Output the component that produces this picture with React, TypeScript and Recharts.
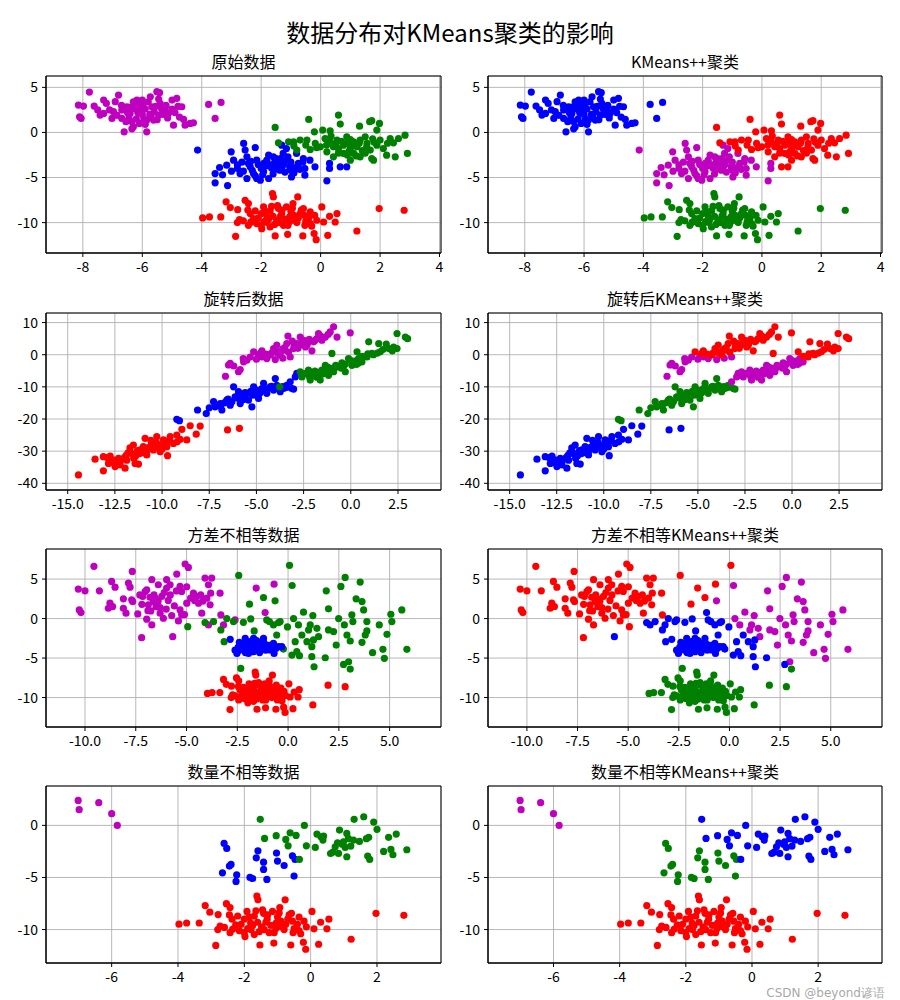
import React from 'react';
import { ScatterChart, Scatter, XAxis, YAxis, CartesianGrid, ReferenceArea } from 'recharts';

type P = [number, number];

// ---------- original blobs ----------
const A_MAG: P[] = [[-7.78,4.48],[-8.15,3.04],[-7.98,2.93],[-8.11,1.74],[-8.06,1.56],[-7.62,2.93],[-7.30,3.59],[-7.21,3.22],[-7.42,1.93],[-7.30,2.11],[-7.02,1.56],[-6.91,3.41],[-6.80,4.15],[-6.97,2.30],[-6.69,2.48],[-6.69,1.56],[-6.61,0.07],[-6.52,2.85],[-6.41,2.11],[-6.35,1.19],[-6.30,0.63],[-6.18,3.59],[-6.07,2.48],[-5.96,3.22],[-5.85,0.07],[-5.85,1.37],[-5.73,3.96],[-5.68,2.85],[-5.51,4.52],[-5.42,4.41],[-5.40,3.22],[-5.62,1.37],[-5.45,1.93],[-5.23,2.48],[-5.12,2.11],[-5.00,3.59],[-4.84,3.78],[-4.95,0.81],[-4.67,2.85],[-4.61,1.44],[-4.56,0.81],[-4.39,1.00],[-4.28,1.07],[-3.77,3.11],[-3.35,3.33],[-3.55,1.56],[-6.20,1.50],[-6.00,2.00],[-5.90,2.60],[-6.40,2.80],[-6.50,2.20],[-6.30,3.40],[-5.60,2.30],[-5.30,2.00],[-5.50,1.40],[-5.00,2.60],[-4.90,2.20],[-5.80,3.40],[-6.10,1.00],[-5.20,3.00],[-6.70,3.00],[-7.10,2.50],[-6.00,3.60],[-5.70,1.70],[-6.25,2.60],[-6.35,0.40],[-5.95,1.50],[-6.15,2.20],[-6.45,1.60],[-6.20,2.90],[-5.75,2.00],[-5.55,2.90],[-5.35,2.60],[-5.15,1.60],[-4.80,2.90],[-6.55,1.20],[-5.90,0.90],[-6.05,3.00],[-5.45,3.70],[-4.75,1.70],[-6.60,2.60],[-7.50,2.50],[-6.85,1.90]];
const A_BLUE: P[] = [[-4.14,-1.96],[-3.55,-4.56],[-3.55,-5.59],[-3.40,-3.89],[-3.13,-5.89],[-3.16,-3.63],[-3.01,-2.15],[-2.93,-3.07],[-2.80,-4.00],[-2.71,-4.56],[-2.59,-1.22],[-2.54,-1.96],[-2.48,-2.70],[-2.43,-3.44],[-2.37,-3.81],[-2.26,-4.56],[-2.20,-1.67],[-2.15,-3.07],[-2.15,-5.11],[-2.48,-5.11],[-2.03,-5.30],[-1.92,-4.37],[-1.81,-3.07],[-1.75,-5.11],[-1.59,-2.70],[-1.48,-3.44],[-1.37,-4.19],[-1.31,-1.41],[-1.26,-2.33],[-1.15,-1.78],[-1.15,-3.07],[-1.04,-3.81],[-0.98,-4.93],[-0.81,-2.33],[-0.75,-3.44],[-0.58,-2.89],[-0.53,-4.00],[-0.53,-4.74],[-0.36,-3.07],[-0.19,-3.81],[0.21,-5.37],[0.30,-3.44],[0.30,-4.00],[-1.70,-3.60],[-1.40,-3.30],[-1.20,-4.40],[-2.00,-4.00],[-1.60,-4.60],[-1.90,-3.40],[-2.30,-4.20],[-1.00,-3.30],[-0.90,-4.50],[-1.50,-2.90],[-2.60,-4.30],[-2.80,-3.60],[-3.00,-4.30],[-1.65,-3.95],[-1.30,-3.75],[-2.10,-3.55],[-0.70,-4.10],[-1.85,-3.75],[-1.55,-3.35],[-1.25,-3.55],[-1.45,-4.05],[-1.95,-4.70],[-2.35,-3.20],[-1.10,-2.70],[-0.85,-3.90],[-1.75,-2.50],[-2.65,-3.30],[-1.35,-2.90],[-0.60,-3.30],[-2.20,-4.80],[-1.00,-4.20],[-3.30,-4.70]];
const A_BLUE_X: P[] = [[0.66,-3.81],[0.88,-3.81]];
const A_GREEN: P[] = [[-1.53,0.56],[-1.42,-1.15],[-0.40,1.44],[-0.21,0.07],[0.07,0.26],[0.32,0.19],[0.60,1.93],[0.66,0.93],[1.31,0.70],[1.65,1.19],[1.72,1.30],[1.98,1.00],[1.89,0.26],[2.84,-0.30],[2.92,-2.33],[2.62,-0.67],[2.45,-1.15],[2.51,-2.70],[2.22,-2.52],[1.78,-3.07],[1.72,-2.89],[1.33,-2.70],[1.00,-3.07],[0.77,-2.33],[0.43,-1.59],[0.21,-2.15],[-0.01,-1.59],[-0.18,-1.22],[-0.46,-0.85],[-0.69,-0.85],[-0.91,-1.04],[-1.08,-1.04],[-0.80,-1.96],[-0.35,-1.89],[0.55,-0.85],[0.88,-0.48],[1.11,-1.04],[1.33,-0.85],[1.56,-1.22],[1.67,-1.96],[1.89,-1.41],[2.00,-0.85],[1.00,-1.78],[0.77,-1.41],[1.22,-1.59],[0.32,-1.04],[0.15,-0.67],[0.88,-1.22],[1.50,-0.48],[2.11,-1.78],[0.43,-2.70],[-0.13,-1.70],[1.11,-2.33],[2.34,-0.67],[0.95,-2.10],[1.40,-2.00],[0.60,-1.80],[1.75,-0.70],[1.20,-2.60],[0.50,-1.30],[0.70,-1.00],[1.05,-1.40],[1.30,-1.20],[1.55,-1.60],[0.90,-2.50],[1.50,-2.30],[0.20,-1.40],[-0.50,-1.40],[0.35,-0.40],[1.80,-1.10],[2.25,-1.20],[1.00,-0.80],[-0.90,-1.50],[0.60,-2.30]];
const A_RED: P[] = [[-3.97,-9.48],[-3.74,-9.37],[-3.36,-9.37],[-3.18,-7.70],[-3.04,-8.33],[-2.86,-11.52],[-2.79,-8.56],[-2.73,-9.67],[-2.54,-7.52],[-2.43,-7.89],[-2.43,-10.30],[-2.37,-9.00],[-2.26,-9.56],[-2.15,-10.11],[-1.98,-10.67],[-1.92,-8.26],[-1.81,-9.37],[-1.70,-10.48],[-1.62,-6.78],[-1.59,-7.15],[-1.53,-11.48],[-1.48,-9.74],[-1.42,-8.44],[-1.31,-9.00],[-1.25,-10.30],[-1.15,-8.26],[-1.11,-11.30],[-1.04,-9.37],[-0.93,-7.89],[-0.88,-9.74],[-0.77,-7.15],[-0.69,-9.00],[-0.60,-11.48],[-0.58,-8.44],[-0.53,-10.30],[-0.35,-8.81],[-0.22,-11.22],[-0.15,-11.89],[-0.13,-9.74],[0.04,-8.26],[0.10,-9.93],[0.24,-11.41],[0.49,-9.93],[0.55,-9.00],[1.22,-10.93],[1.97,-8.44],[2.81,-8.63],[-2.00,-9.00],[-1.70,-8.70],[-1.20,-9.60],[-1.00,-8.80],[-0.80,-10.00],[-0.40,-9.50],[-1.90,-9.90],[-2.20,-8.70],[-1.40,-10.00],[-0.90,-9.20],[-0.50,-9.90],[-0.20,-9.20],[-1.60,-9.30],[-2.60,-9.80],[-2.00,-10.30],[-1.10,-10.30],[-1.75,-9.60],[-0.65,-8.60],[-2.35,-9.95],[-1.45,-8.10],[-0.30,-10.40],[-1.85,-8.80],[-1.30,-8.60],[-0.75,-9.50],[-1.55,-10.20],[-2.10,-9.50],[-1.05,-9.90],[-0.55,-9.20],[-1.35,-9.30],[-0.95,-8.40],[-2.45,-8.60],[-1.80,-10.00],[0.30,-9.30],[-0.35,-10.10],[-1.65,-8.20],[-2.80,-10.00]];

// ---------- rotated ----------
const ROT_RED: P[] = [[-14.43,-37.4],[-13.55,-32.5],[-13.11,-36.1],[-13.11,-31.7],[-12.84,-33.8],[-12.75,-31.5],[-12.49,-34.8],[-12.31,-32.2],[-12.22,-34.3],[-11.96,-35.3],[-11.87,-32.8],[-11.61,-30.7],[-11.52,-28.1],[-11.43,-33.8],[-11.25,-34.0],[-11.16,-29.6],[-10.99,-28.6],[-10.90,-26.0],[-10.81,-31.2],[-10.55,-27.6],[-10.46,-29.6],[-10.28,-25.5],[-10.19,-28.1],[-10.10,-30.2],[-9.93,-26.5],[-9.75,-28.6],[-9.71,-31.4],[-9.57,-25.5],[-9.40,-27.6],[-9.22,-25.0],[-9.04,-26.3],[-8.95,-23.2],[-8.69,-26.5],[-8.51,-22.1],[-8.19,-24.7],[-7.98,-22.2],[-6.53,-23.4],[-5.90,-22.9],[-11.80,-30.5],[-11.30,-29.8],[-10.70,-28.8],[-10.30,-27.3],[-9.90,-27.9],[-12.00,-32.0],[-12.60,-32.7],[-11.00,-30.5],[-9.60,-26.8],[-10.60,-26.6],[-11.70,-29.0],[-12.90,-32.0],[-10.00,-29.3],[-9.20,-27.1],[-11.40,-31.5],[-12.40,-33.2],[-10.40,-28.2],[-11.90,-31.3],[-11.20,-30.8],[-10.80,-29.9],[-10.20,-28.8],[-9.80,-26.9],[-12.20,-33.0],[-11.50,-32.2],[-10.50,-27.9],[-12.70,-33.5],[-11.00,-29.2]];
const ROT_BLUE: P[] = [[-9.22,-20.1],[-9.08,-20.5],[-8.12,-17.2],[-7.66,-18.3],[-7.27,-14.6],[-7.19,-16.2],[-6.92,-15.2],[-6.83,-17.2],[-6.57,-14.1],[-6.39,-15.7],[-6.21,-10.0],[-6.13,-13.1],[-5.95,-11.5],[-5.86,-15.2],[-5.60,-13.1],[-5.42,-14.1],[-5.24,-16.2],[-5.15,-10.0],[-5.07,-12.0],[-4.89,-13.6],[-4.71,-10.5],[-4.62,-8.9],[-4.45,-12.0],[-4.27,-10.0],[-4.09,-11.0],[-4.00,-7.4],[-3.92,-9.5],[-3.74,-11.5],[-3.56,-10.5],[-3.39,-9.5],[-3.12,-10.5],[-3.03,-10.7],[-5.50,-12.0],[-5.00,-11.0],[-4.80,-11.8],[-4.40,-10.6],[-5.80,-12.8],[-6.50,-13.8],[-5.30,-11.4],[-4.20,-9.8],[-3.80,-10.2],[-4.60,-11.2],[-6.00,-13.5],[-5.70,-14.0],[-6.90,-16.0],[-7.50,-16.5],[-5.20,-12.6],[-4.50,-11.0],[-5.90,-13.2],[-4.10,-10.4],[-6.30,-14.6],[-3.60,-9.9],[-4.90,-12.4],[-5.60,-11.8],[-6.70,-15.0],[-3.40,-10.2]];
const ROT_BLUE_B: P[] = [[-3.21,-8.4],[-2.94,-6.9],[-2.86,-5.8]];
const ROT_MAG_A: P[] = [[-5.15,0.9],[-4.80,0.4],[-4.71,1.2],[-4.27,-0.1],[-4.09,1.9],[-3.92,3.0],[-3.74,-0.1],[-3.56,1.4],[-3.39,3.5],[-3.33,5.8],[-3.03,1.9],[-2.86,3.5],[-2.68,5.5],[-2.50,4.5],[-2.32,3.0],[-2.06,1.2],[-1.97,4.0],[-1.71,6.6],[-1.53,4.5],[-1.35,5.5],[-1.09,7.1],[-0.91,8.7],[-0.73,5.5],[-0.03,6.8],[-4.20,0.5],[-3.80,1.0],[-3.50,2.2],[-3.00,2.8],[-2.80,2.0],[-2.60,3.8],[-4.50,0.2],[-3.30,0.8],[-2.20,4.8],[-1.80,5.0],[-3.10,4.2],[-2.40,2.4],[-2.90,2.5],[-3.60,1.8],[-2.30,3.6],[-1.90,4.4],[-2.70,3.0],[-3.90,0.6],[-1.60,5.8],[-1.20,6.3]];
const ROT_MAG_B: P[] = [[-6.64,-6.7],[-6.48,-3.2],[-6.39,-2.7],[-5.95,-5.3],[-5.86,-4.6],[-5.68,-2.2],[-5.51,-1.7],[-5.33,-0.7],[-4.45,-1.2],[-4.90,-0.5],[-3.21,-0.7],[-4.00,-1.5],[-3.60,-1.1],[-5.00,-1.4],[-5.70,-1.2],[-4.70,-0.7],[-6.20,-3.5]];
const ROT_GREEN_A: P[] = [[-1.00,0.4],[0.33,0.9],[0.86,-0.7],[0.95,4.0],[1.12,0.4],[1.48,3.5],[1.56,0.9],[1.88,3.3],[2.01,1.9],[2.27,2.4],[2.45,6.6],[2.45,1.9],[2.89,5.5],[3.01,5.0],[0.60,-0.5],[1.20,0.0],[1.70,1.6],[0.90,0.3],[2.20,1.2],[1.40,0.5]];
const ROT_GREEN_B: P[] = [[-2.68,-5.3],[-2.59,-6.9],[-2.24,-4.8],[-2.15,-7.9],[-1.88,-6.4],[-1.62,-7.9],[-1.53,-4.8],[-1.35,-3.3],[-1.18,-6.4],[-0.91,-5.3],[-0.73,-3.8],[-0.47,-2.5],[-0.29,-5.3],[-0.12,-1.2],[0.06,-3.3],[0.41,-1.2],[0.59,-2.2],[-2.00,-6.0],[-1.70,-5.5],[-1.40,-5.0],[-1.00,-4.2],[-0.60,-3.5],[-0.30,-3.0],[0.20,-2.0],[-2.40,-5.8],[-1.80,-7.0],[-0.90,-4.5],[0.00,-1.8],[-1.20,-3.9],[-2.60,-6.0],[-0.50,-4.2],[0.40,-2.6],[-1.50,-6.0],[-1.90,-5.1],[-0.80,-3.3],[-1.10,-5.0],[-0.40,-3.8],[0.30,-3.0],[-2.20,-6.8],[-1.30,-4.4]];
const ROT_GREEN_C: P[] = [[-3.77,-10.0]];

// ---------- unequal variance ----------
const V_MAG_A: P[] = [[-10.33,3.73],[-10.00,3.52],[-10.28,1.10],[-10.20,0.76],[-9.56,6.61],[-9.29,3.52],[-8.69,4.70],[-8.52,3.98],[-8.77,1.95],[-8.85,1.31],[-8.64,1.53],[-8.11,2.50],[-8.11,1.31],[-7.98,0.68],[-7.86,4.49],[-7.78,3.98],[-7.67,5.97],[-7.70,2.37],[-7.65,2.16],[-7.40,0.59],[-7.21,-2.42],[-7.16,2.80],[-7.04,3.43],[-6.96,3.64],[-6.96,-0.08],[-6.88,1.74],[-6.76,0.97],[-6.71,4.92],[-6.71,-0.81],[-6.63,2.16],[-6.55,2.58],[-6.39,4.28],[-6.30,1.40],[-6.30,0.68],[-6.22,2.80],[-6.14,0.04],[-5.98,4.92],[-5.98,3.86],[-5.81,4.28],[-5.73,0.38],[-5.48,5.64],[-5.32,4.07],[-5.24,3.43],[-5.32,1.10],[-5.24,0.47],[-5.40,-0.30],[-5.07,6.91],[-4.91,6.48],[-4.99,4.03],[-4.99,1.95],[-4.66,3.22],[-4.50,2.80],[-4.41,1.95],[-4.25,0.68],[-4.09,5.13],[-4.00,2.58],[-3.92,4.28],[-3.84,1.74],[-3.76,5.13],[-3.81,3.22],[-3.35,3.22],[-3.31,0.47],[-1.57,3.86],[-0.69,4.36],[-6.50,1.50],[-6.00,1.20],[-7.20,1.80],[-6.60,3.00],[-5.80,3.00],[-5.50,3.50],[-4.60,2.30],[-4.30,3.00],[-6.90,1.00],[-5.10,0.50],[-6.40,2.20],[-5.90,2.30],[-5.60,1.60],[-4.80,2.60],[-6.10,3.30],[-4.20,2.20],[-7.30,3.00],[-6.80,2.70]];
const V_MAG_B: P[] = [[-5.68,-2.29],[-3.92,-0.81],[-2.61,-0.17],[-3.18,-0.80],[-1.13,0.76]];
const V_BLUE: P[] = [[-2.85,-2.63],[-2.49,-4.19],[-2.36,-3.35],[-2.11,-2.50],[-2.03,-3.77],[-1.87,-2.92],[-1.70,-4.19],[-1.54,-3.14],[-1.38,-3.77],[-1.21,-2.50],[-1.05,-3.35],[-0.88,-3.98],[-0.72,-3.14],[-0.69,-4.41],[-0.47,-3.56],[-0.31,-3.56],[-2.61,-4.00],[-2.52,-4.41],[-1.95,-4.41],[-2.20,-3.98],[-1.70,-2.50],[-2.20,-3.20],[-1.80,-3.60],[-1.60,-4.00],[-1.30,-3.40],[-1.10,-4.00],[-0.90,-3.40],[-2.30,-3.80],[-2.00,-3.30],[-1.50,-3.70],[-2.40,-3.00],[-1.90,-4.20],[-1.20,-3.00],[-0.60,-3.80],[-1.70,-3.10],[-2.10,-4.30],[-1.40,-4.30],[-0.95,-3.70],[-2.45,-3.60],[-1.55,-2.80],[-1.90,-3.90],[-1.40,-3.10],[-2.15,-3.65],[-1.15,-3.70],[-0.75,-3.50],[-1.65,-3.45]];
const V_GREEN_A: P[] = [[-4.94,-1.02],[-2.43,5.47],[0.07,6.74],[-1.90,1.82],[-1.21,2.67]];
const V_GREEN_B: P[] = [[-4.09,-0.51],[-3.67,-0.38],[-3.31,-1.44],[-3.15,-2.92],[-3.02,0.00],[-2.69,-0.38],[-2.20,-0.47],[-1.84,-0.04],[-1.67,-1.57],[-1.05,-0.17],[-0.92,-0.38],[-0.72,-0.81],[-0.56,-2.08],[-0.47,-0.51],[-0.39,-0.38],[-0.23,-3.86],[-0.03,-1.06],[0.19,-4.62],[0.35,-2.92],[0.43,-4.19],[0.56,-4.70],[0.68,-2.08],[0.93,-2.92],[1.17,-3.56],[1.17,-4.83],[1.25,-2.71],[1.28,-6.10],[1.83,-4.96],[2.73,-5.81]];
const V_GREEN_C: P[] = [[-0.64,2.25],[0.20,4.19],[0.27,0.00],[0.51,-0.81],[0.76,0.81],[1.01,-1.44],[1.09,-0.81],[1.22,0.38],[1.42,-1.23],[1.50,-2.29],[1.88,3.52],[1.99,-1.44],[1.99,1.23],[2.24,-1.65],[2.37,-3.35],[2.49,0.00],[2.60,4.07],[2.77,-0.81],[2.81,5.21],[2.90,-2.08],[2.98,-5.47],[3.06,-2.84],[3.14,0.47],[3.19,-0.38],[3.35,2.50],[3.55,4.62],[3.64,2.16],[3.64,-3.01],[3.72,1.10],[3.80,-2.08],[3.88,-0.38],[3.88,-1.57],[4.16,-4.32],[4.49,-0.81],[4.67,-3.90],[4.74,-5.04],[4.87,-2.00],[5.06,0.55],[5.11,-0.38],[5.60,1.10],[5.85,-3.90]];
const V_GREEN_D: P[] = [[-2.33,-6.31],[3.06,-6.40]];

// ---------- unequal size ----------
const U_MAG: P[] = [[-7.01,2.40],[-6.98,1.51],[-6.39,2.18],[-6.00,1.12],[-5.83,0.00]];
const U_BLUE: P[] = [[-2.61,-1.73],[-2.53,-2.21],[-2.66,-4.55],[-2.45,-3.91],[-2.40,-3.75],[-2.23,-4.74],[-2.25,-5.38],[-1.83,-5.00],[-1.75,-5.10],[-1.59,-2.44],[-1.64,-3.11],[-1.42,-3.53],[-1.42,-4.23],[-1.32,-5.19],[-1.03,-2.66],[-1.00,-3.43],[-0.80,-3.85],[-0.55,-2.92],[-0.47,-3.27],[-0.50,-4.87]];
const U_GREEN: P[] = [[-1.52,0.58],[-1.39,-1.25],[-1.04,-0.99],[-0.75,-1.35],[-0.68,-1.96],[-0.62,-0.71],[-0.44,-0.96],[-0.34,-3.27],[-0.19,0.00],[-0.13,-1.96],[0.14,-2.12],[0.19,-0.83],[0.31,-1.09],[0.37,-1.41],[0.39,-1.03],[0.67,-2.56],[0.74,-2.05],[0.81,-1.67],[0.84,-2.69],[0.87,-0.45],[0.99,-1.57],[1.04,-2.12],[1.09,-0.77],[1.09,-3.01],[1.14,-1.28],[1.29,-1.41],[1.31,0.58],[1.47,-1.54],[1.60,0.83],[1.68,-1.28],[1.72,-2.95],[1.78,-3.27],[1.75,-1.15],[1.90,0.32],[2.00,-0.38],[2.20,-2.50],[2.35,-1.15],[2.42,-2.31],[2.48,-2.82],[2.58,-0.83],[2.90,-2.34],[1.21,-1.99],[0.95,-1.80],[0.60,-2.70]];

// ---------- axes ----------
const X1: [number, number] = [-9.24, 4.05];
const Y1: [number, number] = [-13.37, 6.26];
const X1_TICKS = [-8, -6, -4, -2, 0, 2, 4];
const Y1_TICKS = [-10, -5, 0, 5];
const X2: [number, number] = [-16.15, 4.78];
const Y2: [number, number] = [-42.08, 12.98];
const X2_TICKS = [-15, -12.5, -10, -7.5, -5, -2.5, 0, 2.5];
const Y2_TICKS = [-40, -30, -20, -10, 0, 10];
const X3: [number, number] = [-11.92, 7.53];
const Y3: [number, number] = [-13.73, 8.81];
const X3_TICKS = [-10, -7.5, -5, -2.5, 0, 2.5, 5];
const Y3_TICKS = [-10, -5, 0, 5];
const X4: [number, number] = [-7.98, 3.93];
const Y4: [number, number] = [-13.21, 3.78];
const X4_TICKS = [-6, -4, -2, 0, 2];
const Y4_TICKS = [-10, -5, 0];

const TITLES = ['原始数据', 'KMeans++聚类', '旋转后数据', '旋转后KMeans++聚类', '方差不相等数据', '方差不相等KMeans++聚类', '数量不相等数据', '数量不相等KMeans++聚类'];
const MAIN_TITLE = '数据分布对KMeans聚类的影响';
const WATERMARK = 'CSDN @beyond谚语';

const BLUE = '#0000ff';
const GREEN = '#008000';
const RED = '#ff0000';
const MAG = '#bf00bf';

const toPts = (...arrs: P[][]) => arrs.flat().map(([x, y]) => ({ x, y }));

type Series = { color: string; data: { x: number; y: number }[] };

const FONT = "'Noto Sans CJK SC', 'Noto Sans', sans-serif";

function Subplot(props: {
  plotLeft: number; plotTop: number; plotW: number; plotH: number; title: string;
  xDomain: [number, number]; yDomain: [number, number]; xTicks: number[]; yTicks: number[];
  xDec: boolean; series: Series[];
}) {
  const { plotLeft, plotTop, plotW, plotH, title, xDomain, yDomain, xTicks, yTicks, xDec, series } = props;
  const yAxisW = 46, xAxisH = 30, mTop = 6, mRight = 6;
  return (
    <>
      <div style={{ position: 'absolute', left: plotLeft, top: plotTop - 25, width: plotW, textAlign: 'center', fontSize: 16, lineHeight: '20px', color: '#000' }}>{title}</div>
      <div style={{ position: 'absolute', left: plotLeft - yAxisW, top: plotTop - mTop }}>
        <ScatterChart width={yAxisW + plotW + mRight} height={mTop + plotH + xAxisH} margin={{ top: mTop, right: mRight, bottom: 0, left: 0 }}>
          <CartesianGrid stroke="#b0b0b0" strokeWidth={0.9} />
          <XAxis type="number" dataKey="x" domain={xDomain} ticks={xTicks} allowDataOverflow interval={0} height={xAxisH}
            tickSize={4} tickMargin={5} tick={{ fill: '#000', fontSize: 14 }} tickLine={{ stroke: '#000' }} axisLine={{ stroke: '#000' }}
            tickFormatter={(v: number) => (xDec ? v.toFixed(1) : String(v))} />
          <YAxis type="number" dataKey="y" domain={yDomain} ticks={yTicks} allowDataOverflow interval={0} width={yAxisW}
            tickSize={4} tickMargin={4} tick={{ fill: '#000', fontSize: 14 }} tickLine={{ stroke: '#000' }} axisLine={{ stroke: '#000' }}
            tickFormatter={(v: number) => String(v)} />
          {series.map((s, i) => (
            <Scatter key={i} data={s.data} fill={s.color} isAnimationActive={false}
              shape={(p: any) => <circle cx={p.cx} cy={p.cy} r={3.6} fill={s.color} />} />
          ))}
          <ReferenceArea x1={xDomain[0]} x2={xDomain[1]} y1={yDomain[0]} y2={yDomain[1]} fill="none" fillOpacity={0} stroke="#000" strokeWidth={1} ifOverflow="visible" />
        </ScatterChart>
      </div>
    </>
  );
}

const L = { plotLeft: 46, plotW: 395 };
const R = { plotLeft: 488, plotW: 394 };
const ROWS = [{ plotTop: 76, plotH: 177 }, { plotTop: 313, plotH: 177 }, { plotTop: 549, plotH: 178 }, { plotTop: 786, plotH: 177 }];

export default function App() {
  return (
    <div style={{ position: 'absolute', left: 0, top: 0, width: 900, height: 1000, background: '#fff', fontFamily: FONT, overflow: 'hidden' }}>
      <div style={{ position: 'absolute', left: 0, top: 17, width: 900, textAlign: 'center', fontSize: 24, lineHeight: '30px', color: '#000' }}>{MAIN_TITLE}</div>

      <Subplot {...L} {...ROWS[0]} title={TITLES[0]} xDomain={X1} yDomain={Y1} xTicks={X1_TICKS} yTicks={Y1_TICKS} xDec={false}
        series={[{ color: MAG, data: toPts(A_MAG) }, { color: BLUE, data: toPts(A_BLUE, A_BLUE_X) }, { color: GREEN, data: toPts(A_GREEN) }, { color: RED, data: toPts(A_RED) }]} />
      <Subplot {...R} {...ROWS[0]} title={TITLES[1]} xDomain={X1} yDomain={Y1} xTicks={X1_TICKS} yTicks={Y1_TICKS} xDec={false}
        series={[{ color: BLUE, data: toPts(A_MAG) }, { color: MAG, data: toPts(A_BLUE) }, { color: RED, data: toPts(A_GREEN, A_BLUE_X) }, { color: GREEN, data: toPts(A_RED) }]} />

      <Subplot {...L} {...ROWS[1]} title={TITLES[2]} xDomain={X2} yDomain={Y2} xTicks={X2_TICKS} yTicks={Y2_TICKS} xDec={true}
        series={[{ color: RED, data: toPts(ROT_RED) }, { color: BLUE, data: toPts(ROT_BLUE, ROT_BLUE_B) }, { color: MAG, data: toPts(ROT_MAG_A, ROT_MAG_B) }, { color: GREEN, data: toPts(ROT_GREEN_A, ROT_GREEN_B, ROT_GREEN_C) }]} />
      <Subplot {...R} {...ROWS[1]} title={TITLES[3]} xDomain={X2} yDomain={Y2} xTicks={X2_TICKS} yTicks={Y2_TICKS} xDec={true}
        series={[{ color: BLUE, data: toPts(ROT_RED) }, { color: GREEN, data: toPts(ROT_BLUE, ROT_GREEN_C) }, { color: MAG, data: toPts(ROT_MAG_B, ROT_GREEN_B, ROT_BLUE_B) }, { color: RED, data: toPts(ROT_MAG_A, ROT_GREEN_A) }]} />

      <Subplot {...L} {...ROWS[2]} title={TITLES[4]} xDomain={X3} yDomain={Y3} xTicks={X3_TICKS} yTicks={Y3_TICKS} xDec={true}
        series={[{ color: MAG, data: toPts(V_MAG_A, V_MAG_B) }, { color: GREEN, data: toPts(V_GREEN_A, V_GREEN_B, V_GREEN_C, V_GREEN_D) }, { color: BLUE, data: toPts(V_BLUE) }, { color: RED, data: toPts(A_RED) }]} />
      <Subplot {...R} {...ROWS[2]} title={TITLES[5]} xDomain={X3} yDomain={Y3} xTicks={X3_TICKS} yTicks={Y3_TICKS} xDec={true}
        series={[{ color: RED, data: toPts(V_MAG_A, V_GREEN_A) }, { color: MAG, data: toPts(V_GREEN_C) }, { color: BLUE, data: toPts(V_BLUE, V_MAG_B, V_GREEN_B) }, { color: GREEN, data: toPts(A_RED, V_GREEN_D) }]} />

      <Subplot {...L} {...ROWS[3]} title={TITLES[6]} xDomain={X4} yDomain={Y4} xTicks={X4_TICKS} yTicks={Y4_TICKS} xDec={false}
        series={[{ color: MAG, data: toPts(U_MAG) }, { color: BLUE, data: toPts(U_BLUE) }, { color: GREEN, data: toPts(U_GREEN) }, { color: RED, data: toPts(A_RED) }]} />
      <Subplot {...R} {...ROWS[3]} title={TITLES[7]} xDomain={X4} yDomain={Y4} xTicks={X4_TICKS} yTicks={Y4_TICKS} xDec={false}
        series={[{ color: MAG, data: toPts(U_MAG) }, { color: GREEN, data: toPts(U_BLUE) }, { color: BLUE, data: toPts(U_GREEN) }, { color: RED, data: toPts(A_RED) }]} />

      <div style={{ position: 'absolute', right: 15, top: 986, fontFamily: "'DejaVu Sans', sans-serif", fontSize: 12, lineHeight: '14px', color: 'rgba(150,150,150,0.85)', whiteSpace: 'nowrap' }}>{WATERMARK}</div>
    </div>
  );
}
